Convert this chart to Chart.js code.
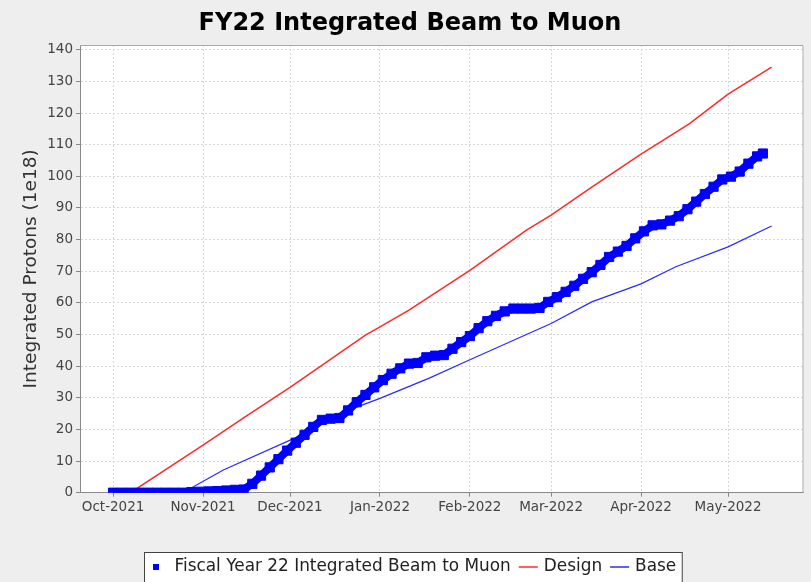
<!DOCTYPE html>
<html>
<head>
<meta charset="utf-8">
<title>FY22 Integrated Beam to Muon</title>
<script src="https://cdn.jsdelivr.net/npm/chart.js@4.4.1/dist/chart.umd.min.js"></script>
<style>
  html, body { margin: 0; padding: 0; background: #eeeeee; overflow: hidden; }
  #wrap { width: 811px; height: 582px; }
</style>
</head>
<body>
<div id="wrap"><canvas id="beamChart"></canvas></div>
<script>
// x values are days counted from 1 Oct 2021
const monthDays = [0, 31, 61, 92, 123, 151, 182, 212];
const monthLabels = ['Oct-2021', 'Nov-2021', 'Dec-2021', 'Jan-2022', 'Feb-2022', 'Mar-2022', 'Apr-2022', 'May-2022'];
const yTicks = [0, 10, 20, 30, 40, 50, 60, 70, 80, 90, 100, 110, 120, 130, 140];

const beamDays = [0, 3, 6, 9, 12, 15, 18, 21, 24, 27, 30, 33, 36, 39, 42, 45, 48, 51, 54, 57,
  60, 63, 66, 69, 72, 75, 78, 81, 84, 87, 90, 93, 96, 99, 102, 105, 108, 111, 114, 117,
  120, 123, 126, 129, 132, 135, 138, 141, 144, 147, 150, 153, 156, 159, 162, 165, 168, 171, 174, 177,
  180, 183, 186, 189, 192, 195, 198, 201, 204, 207, 210, 213, 216, 219, 222, 224];
const beamValues = [0, 0, 0, 0, 0, 0, 0, 0, 0, 0.2, 0.3, 0.4, 0.5, 0.7, 0.9, 1.0, 2.8, 5.4, 8.0, 10.6,
  13.3, 15.8, 18.3, 20.8, 23.0, 23.4, 23.6, 26.0, 28.6, 30.9, 33.3, 35.6, 37.6, 39.3, 40.8, 41.0, 42.8, 43.3, 43.5, 45.5,
  47.6, 49.5, 52.0, 54.2, 55.9, 57.3, 58.2, 58.2, 58.2, 58.4, 60.3, 61.8, 63.5, 65.4, 67.6, 69.7, 72.0, 74.5, 76.2, 78.0,
  80.4, 82.6, 84.5, 84.8, 86.0, 87.4, 89.6, 92.0, 94.4, 96.7, 99.0, 99.9, 101.5, 104.0, 106.3, 107.2];

const designDays = [6, 31, 45.5, 61, 87, 92, 102, 123, 142.5, 151, 165, 182, 198.6, 212, 227];
const designValues = [0, 15, 24, 33.3, 49.8, 52.4, 57.7, 70.3, 83, 87.7, 96.6, 107, 116.6, 126, 134.5];

const baseDays = [24, 38, 62, 78, 92, 109, 123, 151, 165, 182, 194, 212, 227];
const baseValues = [0, 7.2, 17, 25, 29.8, 36.2, 42, 53.5, 60.3, 66, 71.4, 77.7, 84.3];

const FONT = '"DejaVu Sans", sans-serif';

function pairs(xs, ys) {
  return xs.map((x, i) => ({x: x, y: ys[i]}));
}

const plotFrame = {
  id: 'plotFrame',
  beforeDraw(chart) {
    const ctx = chart.ctx, a = chart.chartArea;
    ctx.save();
    ctx.fillStyle = '#eeeeee';
    ctx.fillRect(0, 0, chart.width, chart.height);
    ctx.fillStyle = '#ffffff';
    ctx.fillRect(a.left, a.top, a.right - a.left, a.bottom - a.top);
    ctx.restore();
  },
  afterDraw(chart) {
    const ctx = chart.ctx, a = chart.chartArea;
    ctx.save();
    ctx.strokeStyle = '#a8a8a8';
    ctx.lineWidth = 1;
    ctx.beginPath();
    ctx.moveTo(a.left, a.top + 0.5);
    ctx.lineTo(a.right - 0.5, a.top + 0.5);
    ctx.lineTo(a.right - 0.5, a.bottom);
    ctx.stroke();

    // legend box at the bottom, cut by the window edge
    const cy = 567;
    ctx.font = '16.9px ' + FONT;
    ctx.textBaseline = 'middle';
    let x = 153;
    const drawn = [];
    chart.data.datasets.forEach(d => {
      if (d.pointStyle === 'rect') {
        drawn.push({kind: 'box', x: x, color: d.borderColor});
        x += 6 + 15.5;
      } else {
        drawn.push({kind: 'line', x: x, color: d.borderColor});
        x += 19 + 6;
      }
      drawn.push({kind: 'text', x: x, text: d.label});
      x += ctx.measureText(d.label).width + 8;
    });
    const boxRight = x - 8 + 6;
    ctx.fillStyle = '#ffffff';
    ctx.fillRect(144.5, 552.5, boxRight - 144.5, 50);
    ctx.strokeStyle = '#444444';
    ctx.strokeRect(144.5, 552.5, boxRight - 144.5, 50);
    drawn.forEach(it => {
      if (it.kind === 'box') {
        ctx.fillStyle = it.color;
        ctx.fillRect(it.x, cy - 3, 6, 6);
      } else if (it.kind === 'line') {
        ctx.strokeStyle = it.color;
        ctx.lineWidth = 1.5;
        ctx.beginPath();
        ctx.moveTo(it.x, cy);
        ctx.lineTo(it.x + 19, cy);
        ctx.stroke();
      } else {
        ctx.fillStyle = '#222222';
        ctx.fillText(it.text, it.x, cy);
      }
    });
    ctx.restore();
  }
};

new Chart(document.getElementById('beamChart'), {
  type: 'line',
  data: {
    datasets: [
      {
        label: 'Fiscal Year 22 Integrated Beam to Muon',
        data: pairs(beamDays, beamValues),
        borderColor: '#0000ff',
        backgroundColor: '#0000ff',
        borderWidth: 8,
        pointStyle: 'rect',
        pointRadius: 6.5,
        pointBorderWidth: 1,
        pointBackgroundColor: '#0000ff',
        clip: 0,
        tension: 0
      },
      {
        label: 'Design',
        data: pairs(designDays, designValues),
        borderColor: '#ff2a2a',
        borderWidth: 1.5,
        pointRadius: 0,
        tension: 0
      },
      {
        label: 'Base',
        data: pairs(baseDays, baseValues),
        borderColor: '#2a2aff',
        borderWidth: 1.2,
        pointRadius: 0,
        tension: 0
      }
    ]
  },
  options: {
    responsive: true,
    maintainAspectRatio: false,
    animation: false,
    layout: { padding: { left: 15, right: 6, top: 0, bottom: 0 } },
    plugins: {
      legend: { display: false },
      tooltip: { enabled: false },
      title: {
        display: true,
        text: 'FY22 Integrated Beam to Muon',
        color: '#000000',
        font: { family: FONT, size: 24, weight: 'bold' },
        padding: { top: 9.6, bottom: 6.6 }
      }
    },
    scales: {
      x: {
        type: 'linear',
        min: -11.4,
        max: 238,
        afterBuildTicks: s => { s.ticks = monthDays.map(v => ({value: v})); },
        afterFit: s => { s.height = 89.3; },
        ticks: {
          autoSkip: false,
          maxRotation: 0,
          padding: 3,
          color: '#444444',
          font: { family: FONT, size: 13.5 },
          callback: (v, i) => monthLabels[i]
        },
        grid: { color: '#d8d8d8', tickColor: '#888888', tickLength: 4 },
        border: { color: '#888888', dash: [2, 2] }
      },
      y: {
        min: 0,
        max: 141.5,
        afterBuildTicks: s => { s.ticks = yTicks.map(v => ({value: v})); },
        afterFit: s => { s.width = 65; },
        ticks: {
          padding: 3,
          color: '#444444',
          font: { family: FONT, size: 13.5 }
        },
        grid: { color: '#d8d8d8', tickColor: '#888888', tickLength: 4 },
        border: { color: '#888888', dash: [2, 2] },
        title: {
          display: true,
          text: 'Integrated Protons (1e18)',
          color: '#333333',
          font: { family: FONT, size: 18.5 },
          padding: { top: 5.5, bottom: 0 }
        }
      }
    }
  },
  plugins: [plotFrame]
});
</script>
</body>
</html>
